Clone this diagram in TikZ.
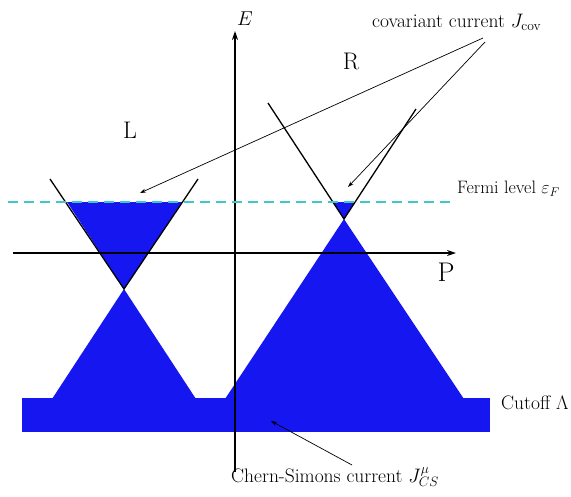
\RequirePackage{fix-cm}
\documentclass[tikz,border=0pt]{standalone}
\usetikzlibrary{arrows.meta}
\definecolor{fillblue}{RGB}{22,22,240}
\definecolor{fermicol}{RGB}{64,200,200}
\begin{document}
\begin{tikzpicture}[x=1pt,y=-1pt,
  lbl/.style={inner sep=0pt, font=\fontsize{19.5}{23}\selectfont},
  big/.style={inner sep=0pt, font=\fontsize{24}{28}\selectfont},
  axis/.style={line width=1.8pt, -{Stealth[length=9pt,width=6pt]}},
  cone/.style={line width=1.3pt},
  band/.style={fill=fillblue, draw=none},
  ptr/.style={line width=0.7pt, -{Stealth[length=6pt,width=4pt]}},
  fermiline/.style={draw=fermicol, line width=2.5pt, dash pattern=on 10pt off 6pt}]
\useasboundingbox (0,0) rectangle (571,496);

% coordinates
\coordinate (Lapex) at (124,289);
\coordinate (Rapex) at (344,219);
\coordinate (LtopL) at (50,179);
\coordinate (LtopR) at (198,179);
\coordinate (RtopL) at (268,103);
\coordinate (RtopR) at (416,109);
\coordinate (xs) at (13,253);
\coordinate (xe) at (456,253);
\coordinate (ys) at (235,472);
\coordinate (ye) at (235,31);
\coordinate (fs) at (8,202);
\coordinate (fe) at (455,202);

% filled regions
\fill[band] (67,202) -- (182,202) -- (Lapex) -- cycle;
\fill[band] (Lapex) -- (52,399) -- (196,399) -- cycle;
\fill[band] (333,202) -- (355,202) -- (Rapex) -- cycle;
\fill[band] (Rapex) -- (225,399) -- (464,399) -- cycle;
\fill[band] (22,398) rectangle (490,432);

% axes
\draw[axis] (xs) -- (xe);
\draw[axis] (ys) -- (ye);

% cone lines
\draw[cone] (LtopL) -- (Lapex) -- (LtopR);
\draw[cone] (RtopL) -- (Rapex) -- (RtopR);

% Fermi level
\draw[fermiline] (fs) -- (fe);

% labels
\node[inner sep=0pt, font=\fontsize{20}{24}\selectfont] (E) at (245,19) {$E$};
\node[inner sep=0pt, font=\fontsize{27}{32}\selectfont] (P) at (446,272) {P};
\node[big] (L) at (130,130) {L};
\node[big] (R) at (351,61) {R};
\node[lbl, anchor=west] (cov) at (372,22) {covariant current $J_{\rm cov}$};
\node[lbl, anchor=west, font=\fontsize{18}{22}\selectfont] (fermi) at (457,189) {Fermi level $\varepsilon_F$};
\node[lbl, anchor=west] (cut) at (501,403) {Cutoff $\Lambda$};
\node[lbl, anchor=west] (cs) at (231,477) {Chern-Simons current $J^{\mu}_{CS}$};

% pointers
\coordinate (covA) at (483,38);
\coordinate (covB) at (485,42);
\coordinate (tipL) at (140,193);
\coordinate (tipR) at (348,187);
\coordinate (csA) at (352,465);
\coordinate (tipCS) at (271,421);
\draw[ptr] (covA) -- (tipL);
\draw[ptr] (covB) -- (tipR);
\draw[ptr] (csA) -- (tipCS);
\end{tikzpicture}
\end{document}
